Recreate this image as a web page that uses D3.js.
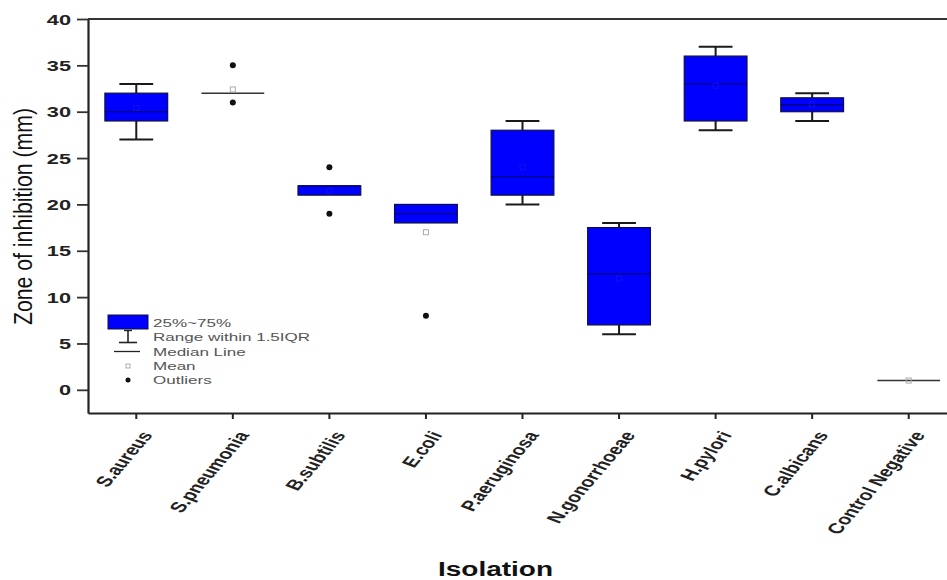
<!DOCTYPE html>
<html>
<head>
<meta charset="utf-8">
<script src="https://cdn.jsdelivr.net/npm/d3@7"></script>
<style>
  html, body { margin: 0; padding: 0; background: #fff; }
  svg { display: block; }
  text { font-family: "Liberation Sans", Arial, sans-serif; }
</style>
</head>
<body>
<svg id="chart" width="947" height="580"></svg>
<script>
// ---- data ----
const categories = ["S.aureus", "S.pneumonia", "B.subtilis", "E.coli", "P.aeruginosa",
                    "N.gonorrhoeae", "H.pylori", "C.albicans", "Control Negative"];
const whiskerLow  = [27, 32, 21, 18, 20, 6,    28, 29,   1];
const q1Values    = [29, 32, 21, 18, 21, 7,    29, 30,   1];
const medians     = [30, 32, 22, 19, 23, 12.5, 33, 30.75, 1];
const q3Values    = [32, 32, 22, 20, 28, 17.5, 36, 31.5, 1];
const whiskerHigh = [33, 32, 22, 20, 29, 18,   37, 32,   1];
const means       = [30.4, 32.4, 21.5, 17, 24, 12, 32.8, 30.8, 1];
const outliers    = [[], [31, 35], [19, 24], [8], [], [], [], [], []];
const yTicks      = [0, 5, 10, 15, 20, 25, 30, 35, 40];
const legendLabels = ["25%~75%", "Range within 1.5IQR", "Median Line", "Mean", "Outliers"];
const yTitle = "Zone of inhibition (mm)";
const xTitle = "Isolation";

// ---- layout ----
const svg = d3.select("#chart");
const mLeft = 88, mRight = 957, mTop = 19, mBottom = 413;
const SX = 1.5; // horizontal stretch of the original figure's text

const x = d3.scaleBand().domain(categories).range([mLeft, mRight]).padding(0);
const y = d3.scaleLinear().domain([-2.5, 40]).range([mBottom, mTop]);
const cx = c => x(c) + x.bandwidth() / 2;
const boxW = x.bandwidth() * 0.65;
const capW = x.bandwidth() * 0.35;

const data = categories.map((c, i) => ({
  c, wl: whiskerLow[i], q1: q1Values[i], med: medians[i], q3: q3Values[i],
  wh: whiskerHigh[i], mean: means[i], out: outliers[i]
}));

// ---- boxes ----
const g = svg.append("g");
data.forEach(d => {
  const xc = cx(d.c);
  if (d.wh > d.q3) {
    g.append("line").attr("x1", xc).attr("x2", xc).attr("y1", y(d.q3)).attr("y2", y(d.wh))
      .attr("stroke", "#1a1a1a").attr("stroke-width", 2);
    g.append("line").attr("x1", xc - capW/2).attr("x2", xc + capW/2).attr("y1", y(d.wh)).attr("y2", y(d.wh))
      .attr("stroke", "#1a1a1a").attr("stroke-width", 2);
  }
  if (d.wl < d.q1) {
    g.append("line").attr("x1", xc).attr("x2", xc).attr("y1", y(d.q1)).attr("y2", y(d.wl))
      .attr("stroke", "#1a1a1a").attr("stroke-width", 2);
    g.append("line").attr("x1", xc - capW/2).attr("x2", xc + capW/2).attr("y1", y(d.wl)).attr("y2", y(d.wl))
      .attr("stroke", "#1a1a1a").attr("stroke-width", 2);
  }
  if (d.q3 > d.q1) {
    g.append("rect").attr("x", xc - boxW/2).attr("y", y(d.q3))
      .attr("width", boxW).attr("height", y(d.q1) - y(d.q3))
      .attr("fill", "#0000ff").attr("stroke", "#101040").attr("stroke-width", 1.2);
  }
  const collapsed = d.q3 === d.q1;
  const inside = !collapsed && d.mean > d.q1 && d.mean < d.q3;
  g.append("line").attr("x1", xc - boxW/2).attr("x2", xc + boxW/2)
    .attr("y1", y(d.med)).attr("y2", y(d.med))
    .attr("stroke", collapsed ? "#333" : "#00007a").attr("stroke-width", collapsed ? 1.5 : 1.3);
  g.append("rect").attr("x", xc - 2.5).attr("y", y(d.mean) - 2.5).attr("width", 5).attr("height", 5)
    .attr("fill", "none").attr("stroke", inside ? "#1010f0" : "#aaa")
    .attr("stroke-width", 1);
  d.out.forEach(v => {
    g.append("circle").attr("cx", xc).attr("cy", y(v)).attr("r", 3).attr("fill", "#111");
  });
});

// ---- axes / frame ----
const yAxis = svg.append("g").attr("transform", `translate(${mLeft},0)`)
  .call(d3.axisLeft(y).tickValues(yTicks).tickSize(11).tickSizeOuter(0));
yAxis.select(".domain").attr("stroke", "#222").attr("stroke-width", 2.2);
yAxis.selectAll(".tick line").attr("stroke", "#333").attr("stroke-width", 1.8);
yAxis.selectAll(".tick text")
  .attr("x", null).attr("dy", null)
  .attr("transform", `translate(-17,5) scale(${SX},1)`)
  .attr("font-size", 14.5).attr("font-weight", "bold").attr("fill", "#222")
  .attr("text-anchor", "end");

const xAxis = svg.append("g").attr("transform", `translate(0,${mBottom})`)
  .call(d3.axisBottom(x).tickSize(6).tickSizeOuter(0).tickFormat(""));
xAxis.select(".domain").attr("stroke", "#222").attr("stroke-width", 2.2);
xAxis.selectAll(".tick line").attr("stroke", "#222").attr("stroke-width", 2);

svg.append("line").attr("x1", mLeft).attr("x2", mRight).attr("y1", y(40)).attr("y2", y(40))
  .attr("stroke", "#333").attr("stroke-width", 2.2);

svg.append("g").selectAll("text").data(categories).join("text")
  .attr("transform", c => `translate(${cx(c) + 17},435) scale(${SX},1) rotate(-60)`)
  .attr("text-anchor", "end")
  .attr("font-size", 14.5).attr("font-weight", "bold").attr("fill", "#222")
  .text(c => c);

svg.append("text")
  .attr("transform", `translate(32,216.5) scale(1.45,1) rotate(-90)`)
  .attr("text-anchor", "middle")
  .attr("font-size", 18).attr("fill", "#111")
  .attr("textLength", 217).attr("lengthAdjust", "spacingAndGlyphs")
  .text(yTitle);

svg.append("text")
  .attr("transform", `translate(495.5,576) scale(1.4,1)`)
  .attr("text-anchor", "middle")
  .attr("font-size", 20).attr("font-weight", "bold").attr("fill", "#111")
  .text(xTitle);

// ---- legend ----
const lg = svg.append("g");
const lx = 128;
const rowY = [322.5, 336.5, 351.5, 366, 380];
lg.append("rect").attr("x", 108).attr("y", 315).attr("width", 40).attr("height", 14)
  .attr("fill", "#0000ff").attr("stroke", "#101040").attr("stroke-width", 1);
lg.append("line").attr("x1", lx).attr("x2", lx).attr("y1", 330).attr("y2", 342.5).attr("stroke", "#222").attr("stroke-width", 1.6);
lg.append("line").attr("x1", lx - 4).attr("x2", lx + 4).attr("y1", 330.5).attr("y2", 330.5).attr("stroke", "#222").attr("stroke-width", 1.4);
lg.append("line").attr("x1", lx - 9).attr("x2", lx + 9).attr("y1", 342.5).attr("y2", 342.5).attr("stroke", "#222").attr("stroke-width", 1.6);
lg.append("line").attr("x1", 114).attr("x2", 140).attr("y1", rowY[2]).attr("y2", rowY[2]).attr("stroke", "#222").attr("stroke-width", 1.3);
lg.append("rect").attr("x", lx - 2).attr("y", rowY[3] - 2).attr("width", 4).attr("height", 4)
  .attr("fill", "none").attr("stroke", "#999").attr("stroke-width", 0.8);
lg.append("circle").attr("cx", lx).attr("cy", rowY[4]).attr("r", 2.5).attr("fill", "#111");
lg.selectAll("text.leg").data(legendLabels).join("text").attr("class", "leg")
  .attr("transform", (t, i) => `translate(153,${rowY[i] + 4}) scale(1.55,1)`)
  .attr("font-size", 11).attr("fill", "#555")
  .text(t => t);
</script>
</body>
</html>
